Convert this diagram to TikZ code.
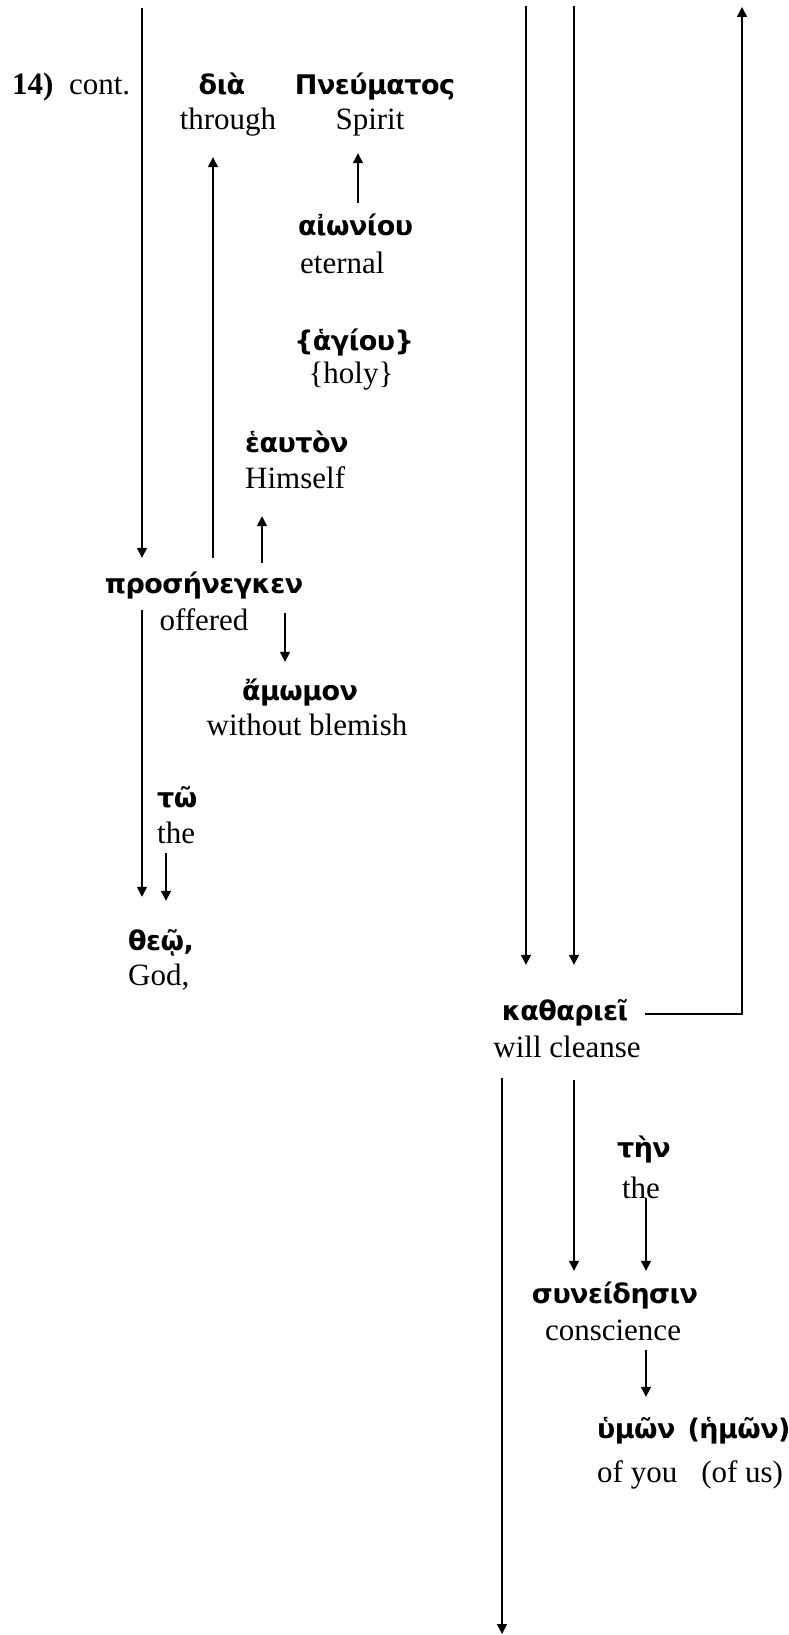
\documentclass[tikz,border=0pt]{standalone}
\usepackage{fontspec}
\setmainfont{Liberation Serif}
\newfontfamily\greekfont[LetterSpace=-2]{DejaVu Sans}
\usetikzlibrary{arrows.meta}

\begin{document}
\begin{tikzpicture}[x=1pt, y=1pt, >={Triangle[length=10pt,width=10pt]},
    gk/.style={font=\greekfont\bfseries\fontsize{27}{31}\selectfont, inner sep=0pt, text height=18pt, text depth=6pt},
    en/.style={font=\fontsize{31}{36}\selectfont, inner sep=0pt, text height=21pt, text depth=7pt},
    link/.style={line width=1.5pt}]
    \useasboundingbox (0,0) rectangle (788,-1635);

    % free ends of the long lines
    \coordinate (top1) at (142,-8);
    \coordinate (top2) at (526,-6);
    \coordinate (top3) at (574,-6);
    \coordinate (rtop) at (742,-7);
    \coordinate (bot) at (502,-1634);

    \node[en, anchor=base west] (lbl) at (12,-95) {\textbf{14)}\enspace cont.};

    % words
    \node[gk, anchor=base] (dia) at (222,-95) {διὰ};
    \node[en, anchor=base] (dia-en) at (228,-130) {through};
    \node[gk, anchor=base] (pneu) at (375,-95) {Πνεύματος};
    \node[en, anchor=base] (pneu-en) at (370,-130) {Spirit};
    \node[gk, anchor=base west] (aion) at (298,-235) {αἰωνίου};
    \node[en, anchor=base west] (aion-en) at (300,-273) {eternal};
    \node[gk, anchor=base] (hag) at (354,-350) {\{ἁγίου\}};
    \node[en, anchor=base] (hag-en) at (351,-383) {\{holy\}};
    \node[gk, anchor=base west] (heau) at (245,-452) {ἑαυτὸν};
    \node[en, anchor=base west] (heau-en) at (245,-488) {Himself};
    \node[gk, anchor=base] (pros) at (204,-593) {προσήνεγκεν};
    \node[en, anchor=base] (pros-en) at (204,-630) {offered};
    \node[gk, anchor=base] (amo) at (300,-700) {ἄμωμον};
    \node[en, anchor=base] (amo-en) at (307,-735) {without blemish};
    \node[gk, anchor=base west] (tw) at (157,-807) {τῶ};
    \node[en, anchor=base west] (tw-en) at (157,-843) {the};
    \node[gk, anchor=base west] (theo) at (128,-950) {θεῷ,};
    \node[en, anchor=base west] (theo-en) at (128,-985) {God,};
    \node[gk, anchor=base] (kath) at (565,-1020) {καθαριεῖ};
    \node[en, anchor=base] (kath-en) at (567,-1057) {will cleanse};
    \node[gk, anchor=base] (ten) at (644,-1157) {τὴν};
    \node[en, anchor=base] (ten-en) at (641,-1198) {the};
    \node[gk, anchor=base] (syn) at (615,-1303) {συνείδησιν};
    \node[en, anchor=base] (syn-en) at (613,-1340) {conscience};
    \node[gk, anchor=base west] (hum) at (597,-1438) {ὑμῶν\hspace{12pt}(ἡμῶν)};
    \node[en, anchor=base west] (hum-en) at (597,-1482) {of you\hspace{24pt}(of us)};

    % connectors
    \draw[link,->] (top1) -- ([xshift=-62pt,yshift=17pt]pros.north);
    \draw[link,->] ([xshift=9pt,yshift=17pt]pros.north) -- ([xshift=-15pt,yshift=-20pt]dia-en.south);
    \draw[link,->] ([xshift=60pt,yshift=14pt]aion.north west) -- ([xshift=-12pt,yshift=-16pt]pneu-en.south);
    \draw[link,->] ([xshift=58pt,yshift=12pt]pros.north) -- ([xshift=17pt,yshift=-21pt]heau-en.south west);
    \draw[link,->] ([xshift=81pt,yshift=-14pt]pros.south) -- ([xshift=-15pt,yshift=20pt]amo.north);
    \draw[link,->] ([xshift=-62pt,yshift=-11pt]pros.south) -- ([xshift=14pt,yshift=35pt]theo.north west);
    \draw[link,->] ([xshift=9pt,yshift=-3pt]tw-en.south west) -- ([xshift=38pt,yshift=31pt]theo.north west);
    \draw[link,->] (top2) -- ([xshift=-39pt,yshift=37pt]kath.north);
    \draw[link,->] (top3) -- ([xshift=9pt,yshift=37pt]kath.north);
    \draw[link,->] ([xshift=17pt]kath.east) -| (rtop);
    \draw[link,->] ([xshift=-65pt,yshift=-14pt]kath-en.south) -- (bot);
    \draw[link,->] ([xshift=7pt,yshift=-16pt]kath-en.south) -- ([xshift=-41pt,yshift=14pt]syn.north);
    \draw[link,->] ([xshift=5pt]ten-en.base) -- ([xshift=31pt,yshift=14pt]syn.north);
    \draw[link,->] ([xshift=33pt,yshift=-3pt]syn-en.south) -- ([xshift=49pt,yshift=23pt]hum.north west);
\end{tikzpicture}
\end{document}
